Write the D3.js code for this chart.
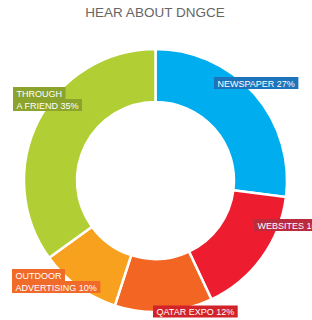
<!DOCTYPE html>
<html>
<head>
<meta charset="utf-8">
<script src="https://cdn.jsdelivr.net/npm/d3@7"></script>
<style>
  html, body { margin: 0; padding: 0; background: #fff; }
  svg { display: block; }
</style>
</head>
<body>
<script>
const title = "HEAR ABOUT DNGCE";
const categories = ["NEWSPAPER", "WEBSITES", "QATAR EXPO", "OUTDOOR ADVERTISING", "THROUGH A FRIEND"];
const values = [27, 16, 12, 10, 35];
const labelLines = [["NEWSPAPER 27%"], ["WEBSITES 16%"], ["QATAR EXPO 12%"], ["OUTDOOR", "ADVERTISING 10%"], ["THROUGH", "A FRIEND 35%"]];

// styling / layout (not data)
const sliceColors = ["#00AEEF", "#ED1C2E", "#F26522", "#F8A11E", "#B1CF35"];
const labelColors = ["#1C75BC", "#B92B3D", "#D2232A", "#F06A2A", "#8CA42B"];
const labelBoxes = [[214, 77], [254, 219], [153, 305.5], [12, 269], [13, 87]];

const W = 312, H = 320;
const cx = 155.5, cy = 180.5, rOuter = 131.5, rInner = 78.5;

const svg = d3.select("body").append("svg").attr("width", W).attr("height", H);

svg.append("text")
  .attr("x", 155).attr("y", 17)
  .attr("text-anchor", "middle")
  .attr("font-family", "Liberation Sans, Arial, sans-serif")
  .attr("font-size", 13.5)
  .attr("fill", "#666")
  .text(title);

const data = categories.map((c, i) => ({ cat: c, value: values[i], i }));
const pie = d3.pie().sort(null).value(d => d.value).startAngle(0).endAngle(2 * Math.PI);
const arc = d3.arc().innerRadius(rInner).outerRadius(rOuter);

const g = svg.append("g").attr("transform", `translate(${cx},${cy})`);
g.selectAll("path")
  .data(pie(data))
  .join("path")
  .attr("d", arc)
  .attr("fill", d => sliceColors[d.data.i])
  .attr("stroke", "#fff")
  .attr("stroke-width", 2.5);

const lineH = 12;
const labels = svg.append("g");
data.forEach((d, i) => {
  const [bx, by] = labelBoxes[i];
  const lg = labels.append("g");
  labelLines[i].forEach((line, j) => {
    const rect = lg.append("rect").attr("fill", labelColors[i]);
    const t = lg.append("text")
      .attr("x", bx + 3.5)
      .attr("y", by + j * lineH + 9.5)
      .attr("font-family", "Liberation Sans, Arial, sans-serif")
      .attr("font-size", 9)
      .attr("fill", "#fff")
      .text(line);
    const w = t.node().getComputedTextLength();
    rect.attr("x", bx).attr("y", by + j * lineH).attr("width", w + 7).attr("height", lineH);
  });
});
</script>
</body>
</html>
